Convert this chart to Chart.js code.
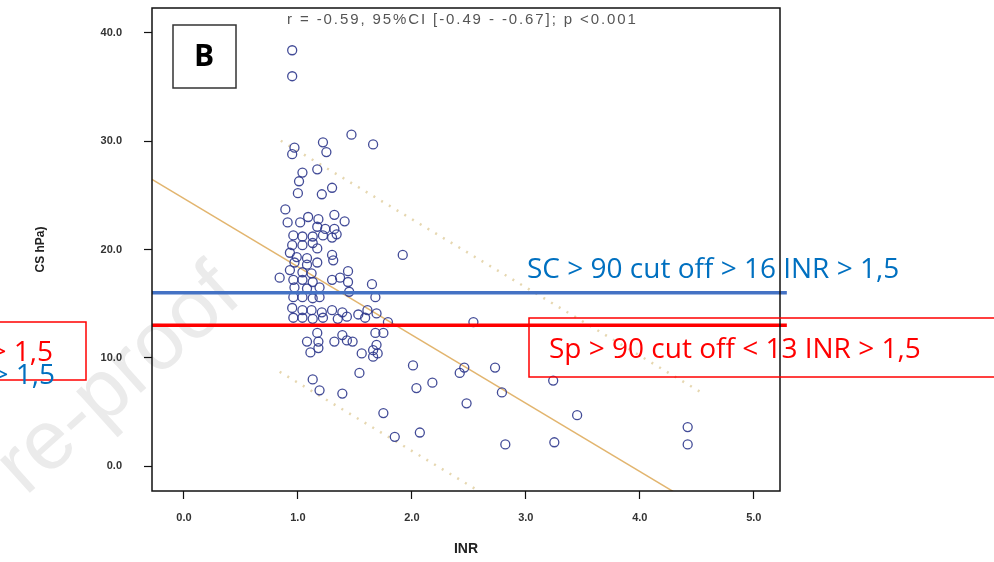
<!DOCTYPE html>
<html>
<head>
<meta charset="utf-8">
<title>CS vs INR</title>
<script src="https://cdn.jsdelivr.net/npm/chart.js@4.4.1/dist/chart.umd.min.js"></script>
<style>
  html, body { margin: 0; padding: 0; background: #ffffff; }
  #chart { display: block; }
</style>
</head>
<body>
<canvas id="chart" width="994" height="562"></canvas>
<script>
// INR / CS values for each patient
const inrValues = [
  0.95, 0.95, 1.47, 1.66, 1.22, 1.25, 0.97, 0.95, 1.17, 1.04,
  1.01, 1.30, 1.21, 1.00, 0.89, 0.91, 1.02, 1.09, 1.18, 1.32,
  1.41, 1.17, 1.24, 1.32, 0.96, 1.04, 1.13, 1.22, 1.30, 1.34,
  0.95, 1.04, 1.13, 1.17, 1.30, 1.31, 0.93, 0.99, 1.08, 0.97,
  1.08, 1.17, 0.93, 1.04, 1.12, 0.84, 0.96, 1.04, 1.13, 1.30,
  1.37, 1.44, 1.44, 0.97, 1.08, 1.19, 1.45, 1.65, 1.68, 0.96,
  1.04, 1.13, 1.19, 0.95, 1.04, 1.12, 1.21, 1.30, 1.39, 0.96,
  1.04, 1.13, 1.22, 1.35, 1.43, 1.53, 1.61, 1.69, 1.59, 1.79,
  2.54, 1.17, 1.39, 1.68, 1.75, 1.08, 1.18, 1.32, 1.43, 1.48,
  1.11, 1.18, 1.56, 1.66, 1.70, 1.54, 1.13, 1.19, 1.39, 1.75,
  1.85, 1.92, 2.01, 2.46, 2.42, 2.18, 2.04, 2.48, 2.07, 2.73,
  2.79, 2.82, 3.24, 3.25, 3.45, 4.42, 4.42, 1.66, 1.69
];
const csValues = [
  38.4, 36.0, 30.6, 29.7, 29.9, 29.0, 29.4, 28.8, 27.4, 27.1,
  26.3, 25.7, 25.1, 25.2, 23.7, 22.5, 22.5, 23.0, 22.8, 23.2,
  22.6, 22.1, 21.9, 21.9, 21.3, 21.2, 21.2, 21.3, 21.1, 21.4,
  20.4, 20.4, 20.6, 20.1, 19.5, 19.0, 19.7, 19.3, 19.2, 18.8,
  18.6, 18.8, 18.1, 17.9, 17.8, 17.4, 17.2, 17.2, 17.0, 17.2,
  17.4, 18.0, 17.0, 16.5, 16.4, 16.5, 16.1, 16.8, 15.6, 15.6,
  15.6, 15.5, 15.6, 14.6, 14.4, 14.4, 14.2, 14.4, 14.2, 13.7,
  13.7, 13.6, 13.7, 13.6, 13.8, 14.0, 14.4, 14.1, 13.7, 13.3,
  13.3, 12.3, 12.1, 12.3, 12.3, 11.5, 11.5, 11.5, 11.6, 11.5,
  10.5, 10.9, 10.4, 10.1, 10.4, 8.6, 8.0, 7.0, 6.7, 4.9,
  2.7, 19.5, 9.3, 9.1, 8.6, 7.7, 7.2, 5.8, 3.1, 9.1,
  6.8, 2.0, 7.9, 2.2, 4.7, 3.6, 2.0, 10.7, 11.2
];

// axis ticks
const xTicks = [0, 1, 2, 3, 4, 5];
const yTicks = [0, 10, 20, 30, 40];

// regression line and 95% prediction band
const fitIntercept = 24.7;
const fitSlope = -6.3;
const bandHalfWidth = 10.7;
const fitRange = [-0.28, 4.6];
const upperBandRange = [0.85, 4.53];
const lowerBandRange = [0.84, 2.7];

// cut-off lines
const scCutoff = 16;
const spCutoff = 13;
const cutoffRange = [-0.28, 5.29];

const statText = 'r = -0.59, 95%CI [-0.49 - -0.67]; p <0.001';
const scLabel = 'SC > 90 cut off > 16 INR > 1,5';
const spLabel = 'Sp > 90 cut off < 13 INR > 1,5';

const colors = {
  point: 'rgba(45, 55, 140, 0.9)',
  fit: '#e2b56f',
  band: '#e6d7b0',
  sc: '#4472c4',
  sp: '#ff0000',
  scText: '#0070c0',
  axis: '#111111',
  tick: '#333333',
  watermark: '#ebebeb'
};

const fitAt = x => fitIntercept + fitSlope * x;

const points = inrValues.map((x, i) => ({ x: x, y: csValues[i] }));
const fitLine = fitRange.map(x => ({ x: x, y: fitAt(x) }));
const upperBand = upperBandRange.map(x => ({ x: x, y: fitAt(x) + bandHalfWidth }));
const lowerBand = lowerBandRange.map(x => ({ x: x, y: fitAt(x) - bandHalfWidth }));
const scLine = cutoffRange.map(x => ({ x: x, y: scCutoff }));
const spLine = cutoffRange.map(x => ({ x: x, y: spCutoff }));

// Frame, watermark and the text overlays
const overlayPlugin = {
  id: 'overlay',
  beforeDraw(chart) {
    const ctx = chart.ctx;
    ctx.save();
    ctx.translate(244, 300);
    ctx.rotate(-42 * Math.PI / 180);
    ctx.font = '84px "Liberation Sans", Arial, sans-serif';
    ctx.fillStyle = colors.watermark;
    ctx.textAlign = 'right';
    ctx.textBaseline = 'alphabetic';
    ctx.fillText('Journal Pre-proof', 0, 0);
    ctx.restore();
  },
  afterDatasetsDraw(chart) {
    const { ctx, chartArea: a } = chart;
    ctx.save();
    ctx.strokeStyle = colors.axis;
    ctx.lineWidth = 1.5;
    ctx.strokeRect(a.left, a.top, a.right - a.left, a.bottom - a.top);
    ctx.restore();
  },
  afterDraw(chart) {
    const ctx = chart.ctx;
    ctx.save();

    // panel letter
    ctx.fillStyle = '#ffffff';
    ctx.fillRect(173, 25, 63, 63);
    ctx.strokeStyle = '#333333';
    ctx.lineWidth = 1.5;
    ctx.strokeRect(173, 25, 63, 63);
    ctx.fillStyle = '#000000';
    ctx.font = 'bold 30px "Open Sans", Arial, sans-serif';
    ctx.textAlign = 'center';
    ctx.textBaseline = 'middle';
    ctx.fillText('B', 204, 57);

    // correlation stats
    ctx.font = '15px "Liberation Sans", Arial, sans-serif';
    ctx.letterSpacing = '1.9px';
    ctx.fillStyle = '#555555';
    ctx.textAlign = 'left';
    ctx.fillText(statText, 287, 20);
    ctx.letterSpacing = '0px';

    // cut-off labels, right side
    ctx.font = '28px "Open Sans", sans-serif';
    ctx.fillStyle = colors.scText;
    ctx.fillText(scLabel, 527, 270);
    ctx.strokeStyle = colors.sp;
    ctx.lineWidth = 1.5;
    ctx.strokeRect(529, 318, 480, 59);
    ctx.fillStyle = colors.sp;
    ctx.fillText(spLabel, 549, 350);

    // cut-off labels, left side (run off the page)
    ctx.strokeRect(-10, 322, 96, 58);
    ctx.textAlign = 'right';
    ctx.fillText(spLabel, 53, 353);
    ctx.fillStyle = colors.scText;
    ctx.fillText(scLabel, 55, 376);

    ctx.restore();
  }
};

const tickFont = { family: '"Liberation Sans", Arial, sans-serif', size: 11, weight: 'bold' };

new Chart(document.getElementById('chart'), {
  type: 'scatter',
  data: {
    datasets: [
      {
        label: 'SC cut off',
        data: scLine,
        showLine: true,
        borderColor: colors.sc,
        borderWidth: 3.5,
        pointRadius: 0,
        clip: false
      },
      {
        label: 'Sp cut off',
        data: spLine,
        showLine: true,
        borderColor: colors.sp,
        borderWidth: 3.5,
        pointRadius: 0,
        clip: false
      },
      {
        label: 'CS',
        data: points,
        pointRadius: 4.5,
        pointBorderWidth: 1.3,
        pointBorderColor: colors.point,
        pointBackgroundColor: 'rgba(0,0,0,0)'
      },
      {
        label: 'Fit',
        data: fitLine,
        showLine: true,
        borderColor: colors.fit,
        borderWidth: 1.5,
        pointRadius: 0
      },
      {
        label: 'Upper',
        data: upperBand,
        showLine: true,
        borderColor: colors.band,
        borderWidth: 2.5,
        borderDash: [2, 7],
        pointRadius: 0
      },
      {
        label: 'Lower',
        data: lowerBand,
        showLine: true,
        borderColor: colors.band,
        borderWidth: 2.5,
        borderDash: [2, 7],
        pointRadius: 0
      }
    ]
  },
  options: {
    responsive: false,
    animation: false,
    devicePixelRatio: 1,
    layout: { autoPadding: false, padding: { top: 8, right: 214, left: 0, bottom: 0 } },
    plugins: {
      legend: { display: false },
      tooltip: { enabled: false }
    },
    scales: {
      x: {
        type: 'linear',
        min: -0.28,
        max: 5.23,
        afterFit: s => {
          s.height = 71;
          s.paddingLeft = 0;
          s.paddingRight = 0;
        },
        afterBuildTicks: s => { s.ticks = xTicks.map(v => ({ value: v })); },
        border: { display: false },
        grid: { drawOnChartArea: false, tickLength: 8, color: colors.axis, tickWidth: 1.2 },
        ticks: {
          padding: 12,
          color: colors.tick,
          font: tickFont,
          callback: v => v.toFixed(1)
        },
        title: {
          display: true,
          text: 'INR',
          color: '#222222',
          font: { family: '"Liberation Sans", Arial, sans-serif', size: 14, weight: 'bold' },
          padding: { top: 0, bottom: 4 }
        }
      },
      y: {
        type: 'linear',
        min: -2.3,
        max: 42.3,
        // fixed axis width, and no extra room reserved above/below the frame
        afterFit: s => {
          s.width = 152;
          s.paddingTop = 0;
          s.paddingBottom = 0;
        },
        afterBuildTicks: s => { s.ticks = yTicks.map(v => ({ value: v })); },
        border: { display: false },
        grid: { drawOnChartArea: false, tickLength: 8, color: colors.axis, tickWidth: 1.2 },
        ticks: {
          padding: 22,
          color: colors.tick,
          font: tickFont,
          callback: v => v.toFixed(1)
        },
        title: {
          display: true,
          text: 'CS hPa)',
          color: '#222222',
          font: { family: '"Liberation Sans", Arial, sans-serif', size: 12, weight: 'bold' },
          padding: { top: 33, bottom: 0 }
        }
      }
    }
  },
  plugins: [overlayPlugin]
});
</script>
</body>
</html>
